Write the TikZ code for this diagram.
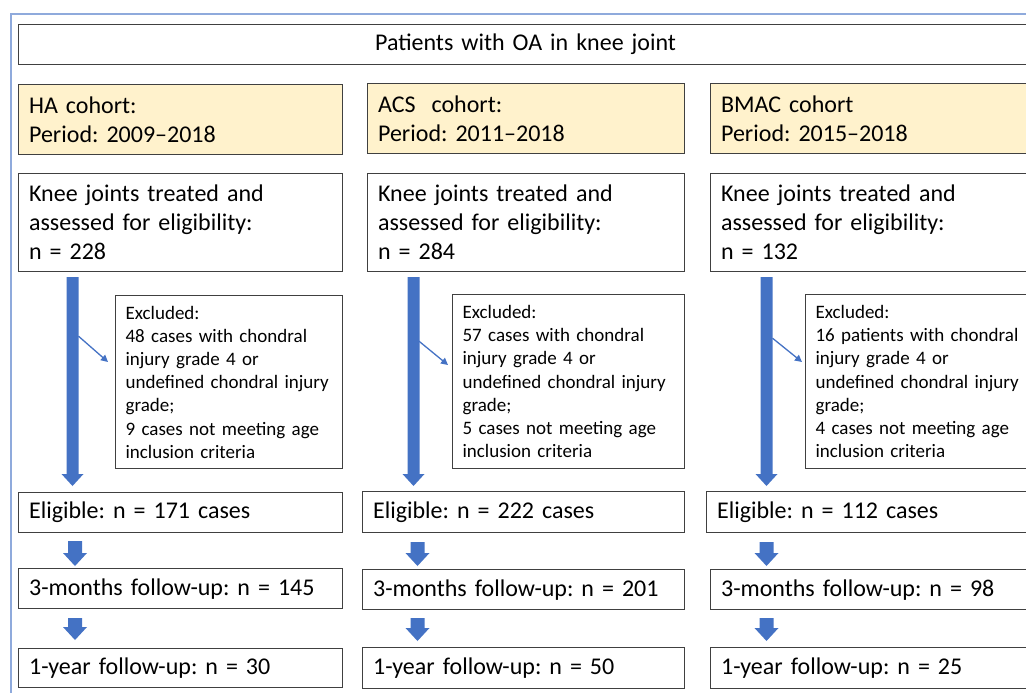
\documentclass[tikz,border=0pt]{standalone}
\usepackage{fontspec}
\setmainfont{Carlito}
\usetikzlibrary{calc,arrows.meta}
\definecolor{bordc}{HTML}{404040}
\definecolor{yel}{HTML}{FFF2CC}
\definecolor{arrc}{HTML}{4472C4}
\definecolor{framec}{HTML}{8FAADC}
\frenchspacing
% block arrow: #1 start, #2 tip, #3 half shaft, #4 half head, #5 head length
\newcommand\blockarr[5]{%
  \fill[arrc] let \p1=(#1), \p2=(#2) in
    ({\x1-#3},{\y1}) -- ({\x1+#3},{\y1}) -- ({\x1+#3},{\y2+#5}) -- ({\x1+#4},{\y2+#5})
    -- ({\x1},{\y2}) -- ({\x1-#4},{\y2+#5}) -- ({\x1-#3},{\y2+#5}) -- cycle;}
\begin{document}
\begin{tikzpicture}[x=1pt,y=-1pt,
  box/.style={draw=bordc, line width=1.2pt, anchor=north west, inner xsep=10.5pt,
    inner ysep=0pt, align=left, font=\fontsize{24}{29}\selectfont\frenchspacing},
  cohort/.style={box, fill=yel},
  excl/.style={box, inner xsep=10pt, font=\fontsize{19}{23.2}\selectfont\frenchspacing},
  thinarr/.style={draw=arrc, line width=1.3pt, -{Triangle[length=7pt,width=7pt]}}]
\clip (0,0) rectangle (1026,693);
\draw[framec, line width=1.3pt] (11,700) -- (11,14) -- (1040,14);
% title
\node[box, align=center, minimum width=1014pt, minimum height=40pt, text width=993pt] (top) at (18,24) {Patients with OA in knee joint};
% cohorts
\node[cohort, minimum width=324pt, minimum height=70pt, text width=303pt] (cha) at (18,84) {HA cohort:\\Period: 2009--2018};
\node[cohort, minimum width=317pt, minimum height=70pt, text width=296pt] (cacs) at (367,83) {ACS\ \ cohort:\\Period: 2011--2018};
\node[cohort, minimum width=324pt, minimum height=70pt, text width=303pt] (cbm) at (710,83) {BMAC cohort\\Period: 2015--2018};
% knee joints
\node[box, minimum width=324pt, minimum height=98pt, text width=303pt] (kha) at (18,173) {Knee joints treated and\\assessed for eligibility:\\n = 228};
\node[box, minimum width=317pt, minimum height=98pt, text width=296pt] (kacs) at (367,173) {Knee joints treated and\\assessed for eligibility:\\n = 284};
\node[box, minimum width=324pt, minimum height=98pt, text width=303pt] (kbm) at (710,173) {Knee joints treated and\\assessed for eligibility:\\n = 132};
% excluded
\node[excl, minimum width=227pt, minimum height=173pt, text width=207pt] (xha) at (115,295) {Excluded:\\48 cases with chondral\\injury grade 4 or\\undefined chondral injury\\grade;\\9 cases not meeting age\\inclusion criteria};
\node[excl, minimum width=232pt, minimum height=174pt, text width=212pt] (xacs) at (452,294) {Excluded:\\57 cases with chondral\\injury grade 4 or\\undefined chondral injury\\grade;\\5 cases not meeting age\\inclusion criteria};
\node[excl, minimum width=232pt, minimum height=174pt, text width=212pt] (xbm) at (805,294) {Excluded:\\16 patients with chondral\\injury grade 4 or\\undefined chondral injury\\grade;\\4 cases not meeting age\\inclusion criteria};
% eligible
\node[box, minimum width=324pt, minimum height=40pt, text width=303pt] (eha) at (18,492) {Eligible: n = 171 cases};
\node[box, minimum width=322pt, minimum height=41pt, text width=301pt] (eacs) at (362,491) {Eligible: n = 222 cases};
\node[box, minimum width=324pt, minimum height=41pt, text width=303pt] (ebm) at (706,491) {Eligible: n = 112 cases};
% 3 months
\node[box, minimum width=324pt, minimum height=40pt, text width=303pt] (tha) at (18,568) {3-months follow-up: n = 145};
\node[box, minimum width=322pt, minimum height=40pt, text width=301pt] (tacs) at (362,569) {3-months follow-up: n = 201};
\node[box, minimum width=324pt, minimum height=40pt, text width=303pt] (tbm) at (710,569) {3-months follow-up: n = 98};
% 1 year
\node[box, minimum width=324pt, minimum height=39pt, text width=303pt] (yha) at (18,648) {1-year follow-up: n = 30};
\node[box, minimum width=322pt, minimum height=41pt, text width=301pt] (yacs) at (362,647) {1-year follow-up: n = 50};
\node[box, minimum width=324pt, minimum height=41pt, text width=303pt] (ybm) at (710,647) {1-year follow-up: n = 25};
% big arrows
\coordinate (bha1) at ($(kha.south west)+(54.5,5)$);
\coordinate (bha2) at ($(eha.north west)+(54.5,-6)$);
\coordinate (bacs1) at ($(kacs.south west)+(46.5,5)$);
\coordinate (bacs2) at ($(eacs.north west)+(51.5,-5)$);
\coordinate (bbm1) at ($(kbm.south west)+(56.5,5)$);
\coordinate (bbm2) at ($(ebm.north west)+(60.5,-5)$);
\blockarr{bha1}{bha2}{6pt}{11pt}{12pt}
\blockarr{bacs1}{bacs2}{6pt}{11pt}{12pt}
\blockarr{bbm1}{bbm2}{6pt}{11pt}{12pt}
% small arrows
\coordinate (sha1) at ($(eha.south west)+(57,8)$);
\coordinate (sha2) at ($(tha.north west)+(57,-2)$);
\coordinate (sha3) at ($(tha.south west)+(57,9)$);
\coordinate (sha4) at ($(yha.north west)+(57,-8)$);
\coordinate (sacs1) at ($(eacs.south west)+(55.5,9)$);
\coordinate (sacs2) at ($(tacs.north west)+(55.5,-3)$);
\coordinate (sacs3) at ($(tacs.south west)+(55.5,8)$);
\coordinate (sacs4) at ($(yacs.north west)+(55.5,-6)$);
\coordinate (sbm1) at ($(ebm.south west)+(60.5,9)$);
\coordinate (sbm2) at ($(tbm.north west)+(56.5,-3)$);
\coordinate (sbm3) at ($(tbm.south west)+(56.5,8)$);
\coordinate (sbm4) at ($(ybm.north west)+(56.5,-6)$);
\blockarr{sha1}{sha2}{7pt}{12pt}{13pt}
\blockarr{sha3}{sha4}{7pt}{12pt}{13pt}
\blockarr{sacs1}{sacs2}{7pt}{12pt}{13pt}
\blockarr{sacs3}{sacs4}{7pt}{12pt}{13pt}
\blockarr{sbm1}{sbm2}{7pt}{12pt}{13pt}
\blockarr{sbm3}{sbm4}{7pt}{12pt}{13pt}
% thin arrows to excluded
\coordinate (tha1) at ($(kha.south west)+(60.5,64)$);
\coordinate (tacs1) at ($(kacs.south west)+(52,69)$);
\coordinate (tbm1) at ($(kbm.south west)+(62.5,66)$);
\draw[thinarr] (tha1) -- ($(xha.north west)+(-7,67)$);
\draw[thinarr] (tacs1) -- ($(xacs.north west)+(-4,71)$);
\draw[thinarr] (tbm1) -- ($(xbm.north west)+(-3,68)$);
\end{tikzpicture}
\end{document}
